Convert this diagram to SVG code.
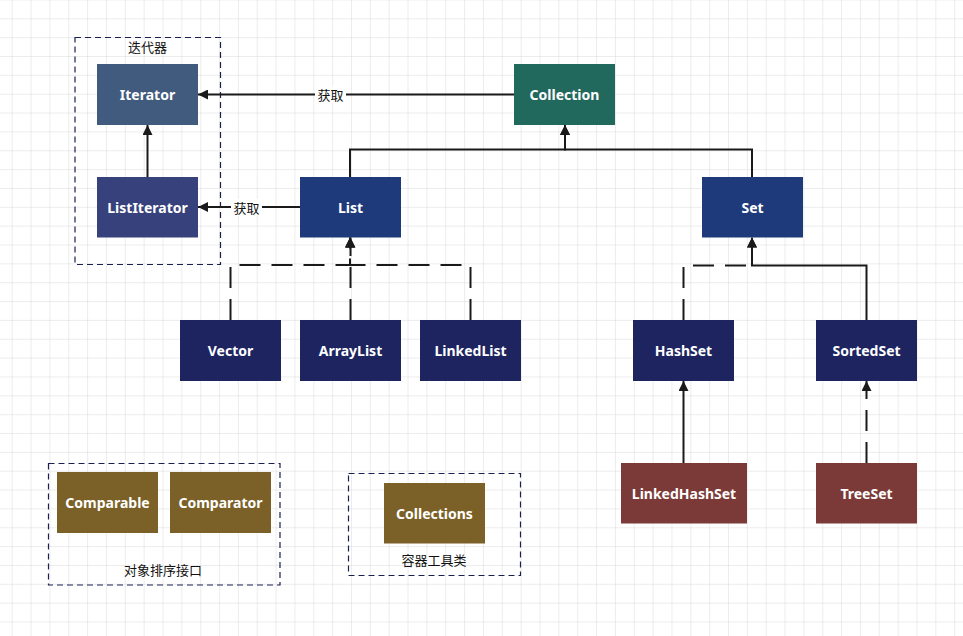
<svg xmlns="http://www.w3.org/2000/svg" width="963" height="636" viewBox="0 0 963 636">
<defs>
<pattern id="grid" x="11.7" y="18.3" width="18.85" height="18.85" patternUnits="userSpaceOnUse">
<path d="M0,0 H18.85 M0,0 V18.85" fill="none" stroke="#d9d9d9" stroke-width="1"/>
</pattern>
<marker id="arr" viewBox="0 0 10 10" refX="10" refY="5" markerWidth="10" markerHeight="10" markerUnits="userSpaceOnUse" orient="auto">
<path d="M0,0 L10,5 L0,10 Z" fill="#1a1a1a"/>
</marker>
<style>
.node text{font-family:"Noto Sans","DejaVu Sans",sans-serif;font-weight:bold;font-size:14px;fill:#fff;text-anchor:middle;dominant-baseline:central}
.edge{fill:none;stroke:#1a1a1a;stroke-width:2}
.dash{stroke-dasharray:21 11}
.grp{fill:none;stroke:#1c2050;stroke-width:1.2;stroke-dasharray:6 4}
.lbl{font-family:"Noto Sans CJK SC",sans-serif;font-size:13px;fill:#111;text-anchor:middle;dominant-baseline:central}
</style>
</defs>
<rect width="963" height="636" fill="#fff"/>
<rect width="963" height="636" fill="url(#grid)"/>

<g id="iterator-group">
<rect class="grp" x="75" y="37.5" width="145.5" height="227"/>
<text class="lbl" x="147.5" y="46">迭代器</text>
</g>
<g id="sort-group">
<rect class="grp" x="48.5" y="463.5" width="231.5" height="121.5"/>
<text class="lbl" x="163" y="569">对象排序接口</text>
</g>
<g id="tools-group">
<rect class="grp" x="348.5" y="473.5" width="172" height="102"/>
<text class="lbl" x="434" y="559">容器工具类</text>
</g>

<g id="connectors">
<path class="edge" d="M514,94.5 H198" marker-end="url(#arr)"/>
<path class="edge" d="M300,207 H198" marker-end="url(#arr)"/>
<path class="edge" d="M147.5,177 V125" marker-end="url(#arr)"/>
<path class="edge" d="M350,177 V149.5 H565 V125" marker-end="url(#arr)"/>
<path class="edge" d="M752,177 V149.5 H565 V125" marker-end="url(#arr)"/>
<path class="edge dash" d="M230.5,320 V265 H350 V237.5" marker-end="url(#arr)"/>
<path class="edge dash" d="M350.5,320 V237.5" marker-end="url(#arr)"/>
<path class="edge dash" d="M470.5,320 V265 H350 V237.5" marker-end="url(#arr)"/>
<path class="edge dash" d="M683.5,320 V265.5 H752 V237.5" marker-end="url(#arr)"/>
<path class="edge" d="M866.5,320 V265.5 H752 V237.5" marker-end="url(#arr)"/>
<path class="edge" d="M683.5,463 V381" marker-end="url(#arr)"/>
<path class="edge dash" d="M866.5,463 V381" marker-end="url(#arr)"/>
<rect x="315" y="86" width="31" height="17" fill="#fff"/>
<text class="lbl" x="330.5" y="94.5">获取</text>
<rect x="231" y="199" width="31" height="17" fill="#fff"/>
<text class="lbl" x="246.5" y="207">获取</text>
</g>

<g id="Iterator" class="node"><rect x="97" y="64" width="101" height="61" fill="#415b7e"/><text x="147.5" y="94.5">Iterator</text></g>
<g id="ListIterator" class="node"><rect x="97" y="177" width="101" height="60.5" fill="#37417b"/><text x="147.5" y="207">ListIterator</text></g>
<g id="Collection" class="node"><rect x="514" y="64" width="101" height="61" fill="#22695d"/><text x="564.5" y="94.5">Collection</text></g>
<g id="List" class="node"><rect x="300" y="177" width="101" height="60.5" fill="#1e3a7a"/><text x="350.5" y="207">List</text></g>
<g id="Set" class="node"><rect x="702" y="177" width="101" height="60.5" fill="#1e3a7a"/><text x="752.5" y="207">Set</text></g>
<g id="Vector" class="node"><rect x="180" y="320" width="101" height="61" fill="#1d245f"/><text x="230.5" y="350.5">Vector</text></g>
<g id="ArrayList" class="node"><rect x="300" y="320" width="101" height="61" fill="#1d245f"/><text x="350.5" y="350.5">ArrayList</text></g>
<g id="LinkedList" class="node"><rect x="420" y="320" width="101" height="61" fill="#1d245f"/><text x="470.5" y="350.5">LinkedList</text></g>
<g id="HashSet" class="node"><rect x="633" y="320" width="101" height="61" fill="#1d245f"/><text x="683.5" y="350.5">HashSet</text></g>
<g id="SortedSet" class="node"><rect x="816" y="320" width="101" height="61" fill="#1d245f"/><text x="866.5" y="350.5">SortedSet</text></g>
<g id="LinkedHashSet" class="node"><rect x="621" y="463" width="126" height="60.5" fill="#7b3a37"/><text x="684" y="493.5">LinkedHashSet</text></g>
<g id="TreeSet" class="node"><rect x="816" y="463" width="101" height="60.5" fill="#7b3a37"/><text x="866.5" y="493.5">TreeSet</text></g>
<g id="Comparable" class="node"><rect x="57" y="472" width="101" height="61" fill="#7b6127"/><text x="107.5" y="502.5">Comparable</text></g>
<g id="Comparator" class="node"><rect x="170" y="472" width="101" height="61" fill="#7b6127"/><text x="220.5" y="502.5">Comparator</text></g>
<g id="Collections" class="node"><rect x="384" y="483" width="101" height="60.5" fill="#7b6127"/><text x="434.5" y="513">Collections</text></g>
</svg>
